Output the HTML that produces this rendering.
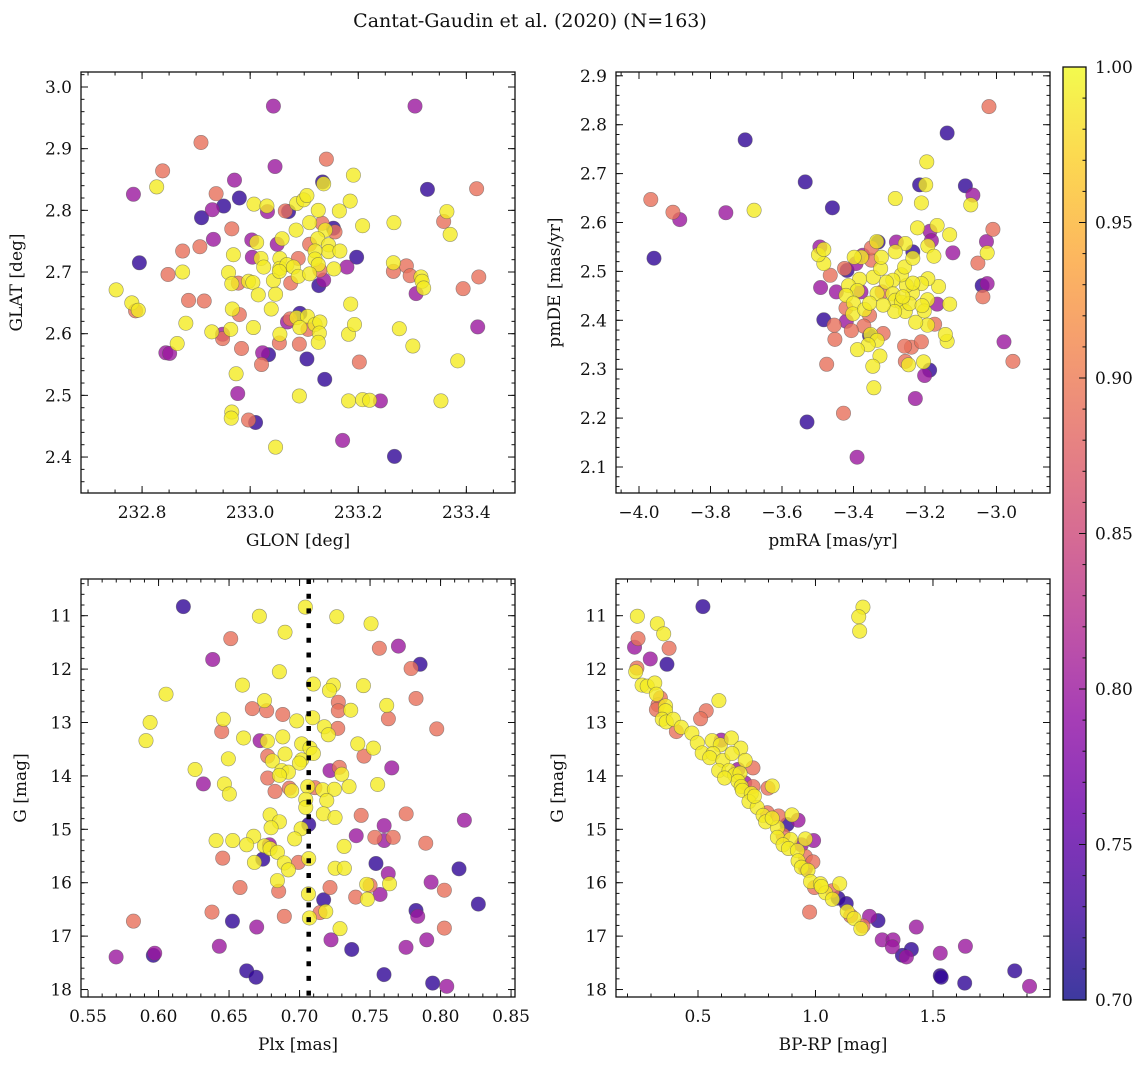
<!DOCTYPE html>
<html><head><meta charset="utf-8">
<style>
html,body{margin:0;padding:0;background:#fff;}
svg{display:block;font-family:"DejaVu Serif","Liberation Serif",serif;}
</style></head>
<body>
<svg id="fig" width="1148" height="1067" viewBox="0 0 1148 1067" xmlns="http://www.w3.org/2000/svg">
<rect x="0" y="0" width="1148" height="1067" fill="#fff"/>
<text x="530" y="27" font-size="19" text-anchor="middle" fill="#111">Cantat-Gaudin et al. (2020) (N=163)</text>
</svg>
<script>
// ---------- data ----------
const p1Glon=[233.043,233.305,232.909,233.141,232.838,233.046,233.191,232.827,232.971,233.134,233.136,232.784,233.328,233.419,232.937,232.980,232.951,232.910,232.930,233.007,233.031,233.032,233.065,233.071,233.086,233.099,233.105,233.126,233.165,233.185,233.364,233.358,233.370,233.266,233.208,232.966,232.932,233.085,233.110,233.133,233.139,233.154,233.157,233.059,233.003,233.012,233.050,233.125,233.110,233.145,233.145,233.166,233.120,232.907,232.875,232.969,233.004,233.020,233.055,233.089,233.120,233.197,232.795,233.025,233.055,233.068,233.080,233.126,233.129,233.155,233.179,233.265,233.265,233.289,233.296,233.316,233.318,233.321,233.307,233.423,233.394,232.875,232.848,232.960,232.966,232.978,232.997,233.005,233.043,233.054,233.089,233.110,233.075,233.136,233.127,232.752,232.781,232.788,232.793,232.886,232.915,233.015,233.047,233.186,232.967,232.980,233.039,232.881,232.929,232.949,232.949,232.964,233.006,233.069,233.074,233.086,233.092,233.106,233.092,233.107,233.120,233.129,233.128,233.126,233.055,233.054,233.091,233.182,233.193,233.276,233.301,233.421,232.865,232.844,232.851,232.984,233.023,233.034,233.021,233.105,233.202,233.384,232.974,232.977,233.138,233.091,233.182,233.208,233.221,233.241,233.353,232.966,232.965,232.997,233.010,233.047,233.171,233.267];
const p1Glat=[2.969,2.969,2.910,2.883,2.864,2.871,2.857,2.838,2.849,2.846,2.843,2.826,2.834,2.835,2.827,2.820,2.807,2.788,2.801,2.810,2.807,2.798,2.799,2.798,2.811,2.817,2.824,2.800,2.799,2.815,2.798,2.782,2.761,2.780,2.775,2.770,2.753,2.768,2.780,2.779,2.768,2.771,2.765,2.754,2.752,2.748,2.745,2.754,2.745,2.744,2.733,2.734,2.734,2.741,2.734,2.728,2.724,2.722,2.722,2.722,2.721,2.724,2.715,2.708,2.706,2.712,2.708,2.712,2.703,2.705,2.708,2.715,2.701,2.710,2.694,2.692,2.685,2.674,2.665,2.692,2.673,2.700,2.696,2.699,2.681,2.682,2.685,2.683,2.686,2.701,2.693,2.697,2.682,2.687,2.678,2.671,2.650,2.637,2.638,2.654,2.653,2.663,2.664,2.648,2.640,2.631,2.640,2.617,2.603,2.599,2.592,2.607,2.610,2.619,2.624,2.626,2.633,2.628,2.610,2.607,2.615,2.619,2.601,2.586,2.599,2.585,2.583,2.599,2.615,2.608,2.580,2.611,2.584,2.569,2.568,2.576,2.569,2.566,2.550,2.559,2.554,2.556,2.535,2.503,2.526,2.499,2.491,2.493,2.492,2.491,2.491,2.473,2.463,2.460,2.456,2.416,2.427,2.401];
const p1Prob=[0.80,0.80,0.89,0.89,0.89,0.80,0.99,0.99,0.80,0.72,0.99,0.80,0.72,0.89,0.89,0.72,0.72,0.72,0.80,0.99,0.99,0.80,0.89,0.72,0.99,0.99,0.99,0.99,0.99,0.99,0.99,0.89,0.99,0.99,0.99,0.89,0.80,0.99,0.99,0.89,0.99,0.72,0.89,0.99,0.80,0.99,0.80,0.99,0.89,0.99,0.99,0.99,0.99,0.89,0.89,0.99,0.80,0.99,0.99,0.89,0.99,0.72,0.72,0.99,0.99,0.99,0.99,0.99,0.89,0.99,0.80,0.99,0.89,0.89,0.89,0.99,0.99,0.99,0.80,0.89,0.89,0.99,0.89,0.99,0.99,0.89,0.99,0.99,0.99,0.99,0.99,0.99,0.89,0.80,0.72,0.99,0.99,0.89,0.99,0.89,0.89,0.99,0.99,0.99,0.99,0.89,0.99,0.99,0.99,0.80,0.89,0.99,0.99,0.80,0.89,0.99,0.72,0.99,0.99,0.89,0.99,0.99,0.99,0.99,0.99,0.89,0.89,0.99,0.99,0.99,0.99,0.80,0.99,0.80,0.80,0.89,0.80,0.72,0.89,0.72,0.89,0.99,0.99,0.80,0.72,0.99,0.99,0.99,0.99,0.80,0.99,0.99,0.99,0.89,0.72,0.99,0.80,0.72];

const p2PmRA=[-3.967,-3.905,-3.886,-3.958,-3.757,-3.703,-3.678,-3.535,-3.459,-3.530,-3.390,-3.428,-3.138,-3.021,-3.195,-3.215,-3.198,-3.087,-3.066,-3.072,-3.283,-3.210,-3.010,-3.221,-3.166,-3.186,-3.131,-3.182,-3.192,-3.175,-3.122,-3.028,-3.026,-3.052,-3.040,-3.026,-3.038,-2.979,-2.954,-3.187,-3.201,-3.227,-3.204,-3.246,-3.255,-3.238,-3.210,-3.257,-3.138,-3.143,-3.173,-3.193,-3.226,-3.166,-3.131,-3.193,-3.202,-3.162,-3.192,-3.210,-3.235,-3.252,-3.266,-3.257,-3.290,-3.308,-3.290,-3.283,-3.266,-3.255,-3.285,-3.320,-3.334,-3.317,-3.345,-3.324,-3.322,-3.350,-3.350,-3.331,-3.335,-3.280,-3.255,-3.283,-3.234,-3.234,-3.374,-3.378,-3.398,-3.393,-3.418,-3.425,-3.383,-3.414,-3.389,-3.379,-3.421,-3.400,-3.421,-3.402,-3.369,-3.355,-3.355,-3.371,-3.406,-3.420,-3.355,-3.352,-3.317,-3.334,-3.359,-3.389,-3.326,-3.346,-3.343,-3.483,-3.498,-3.494,-3.483,-3.465,-3.492,-3.448,-3.483,-3.454,-3.452,-3.475,-3.243,-3.262,-3.208,-3.234];
const p2PmDE=[2.647,2.621,2.606,2.527,2.620,2.769,2.625,2.683,2.630,2.192,2.120,2.210,2.783,2.837,2.724,2.677,2.677,2.675,2.656,2.636,2.649,2.640,2.586,2.589,2.594,2.582,2.575,2.563,2.552,2.531,2.538,2.561,2.538,2.517,2.471,2.475,2.448,2.356,2.316,2.298,2.287,2.240,2.315,2.309,2.316,2.345,2.356,2.347,2.357,2.371,2.392,2.390,2.396,2.433,2.433,2.442,2.419,2.469,2.485,2.475,2.456,2.471,2.493,2.509,2.482,2.478,2.454,2.441,2.437,2.418,2.418,2.458,2.455,2.431,2.488,2.506,2.529,2.523,2.548,2.560,2.561,2.560,2.557,2.540,2.540,2.527,2.533,2.529,2.529,2.516,2.502,2.506,2.484,2.471,2.461,2.458,2.451,2.435,2.425,2.413,2.422,2.435,2.410,2.388,2.379,2.398,2.369,2.371,2.373,2.359,2.350,2.340,2.327,2.306,2.262,2.516,2.534,2.550,2.545,2.492,2.467,2.458,2.401,2.390,2.361,2.310,2.434,2.448,2.430,2.476];
const p2Prob=[0.89,0.89,0.80,0.72,0.80,0.72,0.99,0.72,0.72,0.72,0.80,0.89,0.72,0.89,0.99,0.72,0.99,0.72,0.80,0.99,0.99,0.99,0.89,0.99,0.99,0.80,0.99,0.80,0.99,0.99,0.80,0.80,0.99,0.89,0.72,0.80,0.89,0.80,0.89,0.72,0.80,0.80,0.99,0.99,0.89,0.89,0.89,0.89,0.99,0.99,0.89,0.99,0.99,0.80,0.99,0.99,0.99,0.99,0.99,0.99,0.99,0.99,0.99,0.99,0.99,0.99,0.99,0.99,0.99,0.99,0.99,0.89,0.99,0.99,0.99,0.99,0.99,0.89,0.89,0.72,0.99,0.80,0.99,0.99,0.72,0.99,0.80,0.99,0.99,0.80,0.72,0.89,0.99,0.99,0.99,0.80,0.99,0.99,0.89,0.99,0.99,0.99,0.89,0.89,0.89,0.80,0.72,0.99,0.89,0.99,0.99,0.99,0.99,0.99,0.99,0.99,0.99,0.80,0.99,0.89,0.80,0.80,0.72,0.89,0.89,0.89,0.99,0.99,0.99,0.99];

const p3Plx=[0.6176,0.6715,0.7041,0.7264,0.7507,0.6897,0.6512,0.7566,0.7701,0.6384,0.7855,0.7791,0.6857,0.7098,0.7240,0.7212,0.7453,0.6595,0.6053,0.7826,0.6751,0.7275,0.7275,0.7363,0.7618,0.7630,0.6665,0.6767,0.6881,0.6460,0.6980,0.7093,0.5940,0.7176,0.7271,0.7204,0.7973,0.6448,0.5911,0.6603,0.6720,0.6772,0.6881,0.7015,0.7074,0.7098,0.7413,0.7524,0.7457,0.6897,0.6774,0.6807,0.7015,0.6999,0.6495,0.6259,0.7654,0.7216,0.7282,0.7299,0.6874,0.6921,0.6857,0.6774,0.6318,0.6467,0.6502,0.6826,0.6928,0.6944,0.7058,0.7109,0.7164,0.7247,0.7351,0.7554,0.7044,0.7193,0.7044,0.7169,0.7252,0.7437,0.7756,0.8169,0.6791,0.6857,0.6798,0.7065,0.7011,0.7600,0.7402,0.7534,0.7600,0.7664,0.7895,0.6675,0.6965,0.6408,0.6526,0.6625,0.6786,0.6751,0.6791,0.6843,0.7316,0.6455,0.6739,0.6680,0.6892,0.6992,0.7065,0.6921,0.7252,0.7318,0.7542,0.7629,0.8131,0.6843,0.6578,0.6852,0.7216,0.7476,0.7500,0.7638,0.7571,0.7481,0.7398,0.7933,0.8027,0.7063,0.7171,0.8268,0.6379,0.7145,0.7186,0.7826,0.7838,0.6892,0.7070,0.5822,0.6524,0.6696,0.7287,0.8027,0.6431,0.7223,0.7370,0.7755,0.7902,0.5699,0.5963,0.5973,0.6625,0.6691,0.7599,0.7944,0.8044];
const p3G=[10.83,11.01,10.84,11.02,11.15,11.31,11.43,11.61,11.57,11.82,11.91,11.99,12.05,12.28,12.30,12.40,12.31,12.30,12.47,12.55,12.59,12.62,12.78,12.77,12.68,12.93,12.74,12.78,12.85,12.94,12.97,12.91,13.00,13.08,13.11,13.23,13.12,13.17,13.34,13.29,13.34,13.35,13.27,13.40,13.48,13.58,13.40,13.48,13.63,13.59,13.63,13.72,13.70,13.76,13.68,13.88,13.85,13.90,13.84,13.97,13.90,13.93,13.99,14.04,14.15,14.15,14.34,14.29,14.23,14.28,14.20,14.22,14.26,14.25,14.20,14.16,14.44,14.46,14.59,14.71,14.78,14.74,14.71,14.83,14.73,14.86,14.97,14.91,14.99,14.93,15.12,15.15,15.21,15.15,15.26,15.13,15.18,15.21,15.21,15.29,15.29,15.31,15.36,15.43,15.32,15.54,15.56,15.62,15.63,15.62,15.55,15.76,15.73,15.73,15.64,15.83,15.74,15.96,16.09,16.16,16.09,16.03,16.05,16.02,16.22,16.31,16.27,15.99,16.14,16.21,16.32,16.40,16.55,16.56,16.54,16.52,16.63,16.63,16.66,16.72,16.72,16.83,16.86,16.85,17.19,17.07,17.25,17.21,17.07,17.39,17.36,17.32,17.65,17.77,17.72,17.88,17.94];
const p3Prob=[0.72,0.99,0.99,0.99,0.99,0.99,0.89,0.89,0.80,0.80,0.72,0.89,0.99,0.99,0.99,0.99,0.99,0.99,0.99,0.89,0.99,0.89,0.89,0.99,0.99,0.89,0.89,0.89,0.89,0.99,0.99,0.99,0.99,0.99,0.89,0.99,0.89,0.89,0.99,0.99,0.80,0.99,0.99,0.99,0.99,0.99,0.99,0.99,0.89,0.99,0.89,0.99,0.99,0.99,0.99,0.99,0.80,0.80,0.89,0.99,0.99,0.99,0.99,0.89,0.80,0.99,0.99,0.89,0.89,0.99,0.99,0.89,0.99,0.99,0.99,0.99,0.99,0.99,0.99,0.99,0.99,0.89,0.89,0.80,0.99,0.99,0.99,0.72,0.99,0.80,0.80,0.89,0.80,0.89,0.89,0.99,0.99,0.99,0.99,0.99,0.80,0.99,0.99,0.99,0.99,0.89,0.72,0.99,0.99,0.89,0.99,0.99,0.99,0.99,0.72,0.80,0.72,0.99,0.89,0.89,0.89,0.99,0.89,0.99,0.80,0.99,0.89,0.80,0.89,0.99,0.72,0.72,0.89,0.89,0.99,0.72,0.80,0.89,0.99,0.89,0.72,0.80,0.99,0.89,0.80,0.80,0.72,0.80,0.80,0.80,0.72,0.80,0.72,0.72,0.72,0.72,0.80];

const p4Color=[0.521,0.242,1.202,1.184,1.188,0.327,0.354,0.245,0.230,0.377,0.297,0.368,0.240,0.235,0.262,0.284,0.316,0.323,0.340,0.330,0.323,0.362,0.362,0.348,0.365,0.395,0.589,0.535,0.511,0.408,0.429,0.474,0.497,0.518,0.560,0.599,0.595,0.564,0.550,0.606,0.588,0.642,0.682,0.645,0.701,0.734,0.670,0.632,0.656,0.679,0.670,0.699,0.684,0.689,0.734,0.798,0.816,0.727,0.717,0.752,0.795,0.777,0.788,0.843,0.900,0.926,0.879,0.838,0.862,0.838,0.894,0.957,0.992,0.940,0.862,0.885,0.923,0.957,0.989,0.926,0.940,0.968,0.958,0.979,0.996,1.021,1.043,1.072,1.072,1.103,1.096,1.131,1.135,1.150,1.164,1.202,1.193,0.975,1.230,1.266,1.284,1.330,1.327,1.370,1.387,1.408,1.429,1.531,1.638,1.531,1.535,1.635,1.848,1.911,0.613,0.740,0.816,1.025];
const p4G=[10.83,11.01,10.84,11.02,11.29,11.15,11.34,11.43,11.59,11.61,11.81,11.91,11.98,12.05,12.30,12.32,12.26,12.47,12.54,12.67,12.76,12.69,12.78,12.94,12.99,12.94,12.59,12.78,12.93,13.17,13.09,13.20,13.38,13.57,13.34,13.33,13.42,13.58,13.66,13.71,13.90,13.29,13.48,13.58,13.71,13.85,13.88,13.90,13.98,13.95,14.10,14.13,14.20,14.27,14.20,14.23,14.19,14.33,14.48,14.59,14.69,14.74,14.86,14.75,14.73,14.83,14.91,14.97,15.11,15.15,15.19,15.18,15.21,15.29,15.29,15.36,15.40,15.51,15.61,15.59,15.71,15.77,15.73,15.98,16.09,16.02,16.19,16.15,16.31,16.02,16.29,16.39,16.54,16.62,16.67,16.81,16.86,16.55,16.63,16.71,17.07,17.07,17.20,17.36,17.39,17.25,16.83,17.32,17.19,17.74,17.77,17.88,17.65,17.94,14.04,14.38,14.79,16.07];
const p4Prob=[0.72,0.99,0.99,0.99,0.99,0.99,0.99,0.89,0.80,0.89,0.80,0.72,0.89,0.99,0.99,0.99,0.99,0.99,0.89,0.89,0.89,0.99,0.99,0.99,0.99,0.99,0.99,0.89,0.89,0.89,0.99,0.99,0.99,0.99,0.99,0.80,0.99,0.99,0.99,0.99,0.99,0.99,0.99,0.99,0.99,0.89,0.80,0.99,0.99,0.99,0.99,0.80,0.99,0.99,0.89,0.89,0.99,0.99,0.99,0.99,0.89,0.99,0.99,0.89,0.99,0.80,0.72,0.99,0.89,0.99,0.99,0.99,0.80,0.80,0.99,0.99,0.99,0.89,0.89,0.99,0.99,0.99,0.80,0.99,0.89,0.99,0.99,0.89,0.99,0.99,0.72,0.72,0.99,0.89,0.99,0.89,0.99,0.89,0.80,0.72,0.80,0.80,0.80,0.72,0.80,0.72,0.80,0.80,0.80,0.72,0.72,0.72,0.72,0.80,0.99,0.99,0.99,0.99];

const p1XTicks=[232.8,233.0,233.2,233.4];
const p1YTicks=[2.4,2.5,2.6,2.7,2.8,2.9,3.0];
const p2XTicks=[-4.0,-3.8,-3.6,-3.4,-3.2,-3.0];
const p2YTicks=[2.1,2.2,2.3,2.4,2.5,2.6,2.7,2.8,2.9];
const p3XTicks=[0.55,0.60,0.65,0.70,0.75,0.80,0.85];
const gTicks=[11,12,13,14,15,16,17,18];
const p4XTicks=[0.5,1.0,1.5];
const cbarTicks=[0.70,0.75,0.80,0.85,0.90,0.95,1.00];
const plxRef=[0.7065];

// ---------- drawing ----------
const NS='http://www.w3.org/2000/svg';
const svg=document.getElementById('fig');
function mk(tag,attrs,parent){const e=document.createElementNS(NS,tag);for(const k in attrs)e.setAttribute(k,attrs[k]);(parent||svg).appendChild(e);return e;}
const stops=['#0d0887','#41049d','#6a00a8','#8f0da4','#b12a90','#cc4778','#e16462','#f2844b','#fca636','#fcce25','#f0f921'];
function hex(h){return [1,3,5].map(i=>parseInt(h.substr(i,2),16));}
function cmap(p){let t=(p-0.7)/0.3;t=Math.max(0,Math.min(1,t));const f=t*10,i=Math.min(9,Math.floor(f)),r=f-i;const a=hex(stops[i]),b=hex(stops[i+1]);return 'rgb('+a.map((v,k)=>Math.round(v+(b[k]-v)*r)).join(',')+')';}
function fmtMinus(s){return s.replace('-','\u2212');}

function makeAxes(o){
  const g=mk('g',{});
  
  
  const sx=v=>o.x0+(v-o.xmin)/(o.xmax-o.xmin)*(o.x1-o.x0);
  const sy=v=>o.y0+(v-o.ytop)/(o.ybot-o.ytop)*(o.y1-o.y0);
  // minor ticks
  const tk=mk('g',{stroke:'#111','stroke-width':1},g);
  
  
  const lo=Math.min(o.xmin,o.xmax),hi=Math.max(o.xmin,o.xmax);
  for(let k=Math.ceil(lo/o.xminor-1e-6);k*o.xminor<=hi+1e-9;k++){const x=sx(k*o.xminor);mk('line',{x1:x,x2:x,y1:o.y1,y2:o.y1-3.5},tk);mk('line',{x1:x,x2:x,y1:o.y0,y2:o.y0+3.5},tk);}
  const ylo=Math.min(o.ytop,o.ybot),yhi=Math.max(o.ytop,o.ybot);
  for(let k=Math.ceil(ylo/o.yminor-1e-6);k*o.yminor<=yhi+1e-9;k++){const y=sy(k*o.yminor);mk('line',{x1:o.x0,x2:o.x0+3.5,y1:y,y2:y},tk);mk('line',{x1:o.x1,x2:o.x1-3.5,y1:y,y2:y},tk);}
  o.xticks.forEach(v=>{const x=sx(v);mk('line',{x1:x,x2:x,y1:o.y1,y2:o.y1-7},tk);mk('line',{x1:x,x2:x,y1:o.y0,y2:o.y0+7},tk);
    const t=mk('text',{x:x,y:o.y1+25,'font-size':17,'text-anchor':'middle',fill:'#111'},g);t.textContent=fmtMinus(v.toFixed(o.xdec));
    });
  o.yticks.forEach(v=>{const y=sy(v);mk('line',{x1:o.x0,x2:o.x0+7,y1:y,y2:y},tk);mk('line',{x1:o.x1,x2:o.x1-7,y1:y,y2:y},tk);
    const t=mk('text',{x:o.x0-9,y:y+6,'font-size':17,'text-anchor':'end',fill:'#111'},g);t.textContent=v.toFixed(o.ydec);
    });
  const xl=mk('text',{x:(o.x0+o.x1)/2,y:o.y1+53,'font-size':17,'text-anchor':'middle',fill:'#111'},g);xl.textContent=o.xlabel;
  
  const yl=mk('text',{x:0,y:0,'font-size':17,'text-anchor':'middle',fill:'#111',transform:'translate('+o.ylx+','+((o.y0+o.y1)/2)+') rotate(-90)'},g);yl.textContent=o.ylabel;
  
  // points sorted by prob
  const pts=mk('g',{},g);
  
  
  const idx=o.xs.map((_,i)=>i).sort((a,b)=>o.ps[a]-o.ps[b]);
  idx.forEach(i=>{const c=mk('circle',{cx:sx(o.xs[i]),cy:sy(o.ys[i]),r:7.2,fill:cmap(o.ps[i]),'fill-opacity':0.8,stroke:'#555','stroke-opacity':0.6,'stroke-width':0.6},pts);
    
    });
  if(o.after)o.after(g,sx,sy);
  const fr=mk('rect',{x:o.x0,y:o.y0,width:o.x1-o.x0,height:o.y1-o.y0,fill:'none',stroke:'#111','stroke-width':1.3},g);
  
}

makeAxes({name:'glon-glat-panel',x0:81,x1:515,y0:72,y1:493,xmin:232.687,xmax:233.490,ytop:3.0243,ybot:2.3417,
  xticks:p1XTicks,yticks:p1YTicks,xminor:0.05,yminor:0.02,xdec:1,ydec:1,xlabel:'GLON [deg]',ylabel:'GLAT [deg]',ylx:22,
  xs:p1Glon,ys:p1Glat,ps:p1Prob});
makeAxes({name:'proper-motion-panel',x0:616,x1:1050,y0:72,y1:493,xmin:-4.0643,xmax:-2.8503,ytop:2.9078,ybot:2.0468,
  xticks:p2XTicks,yticks:p2YTicks,xminor:0.05,yminor:0.02,xdec:1,ydec:1,xlabel:'pmRA [mas/yr]',ylabel:'pmDE [mas/yr]',ylx:560,
  xs:p2PmRA,ys:p2PmDE,ps:p2Prob});
makeAxes({name:'parallax-mag-panel',x0:81,x1:515,y0:579,y1:997,xmin:0.5450,xmax:0.8528,ytop:10.313,ybot:18.14,
  xticks:p3XTicks,yticks:gTicks,xminor:0.01,yminor:0.2,xdec:2,ydec:0,xlabel:'Plx [mas]',ylabel:'G [mag]',ylx:26,
  xs:p3Plx,ys:p3G,ps:p3Prob,
  after:(g,sx,sy)=>{plxRef.forEach(v=>{const l=mk('line',{x1:sx(v),x2:sx(v),y1:579,y2:997,stroke:'#000','stroke-width':4.5,'stroke-dasharray':'5,9.7'},g);
    });}});
makeAxes({name:'cmd-panel',x0:616,x1:1050,y0:579,y1:997,xmin:0.1511,xmax:1.998,ytop:10.313,ybot:18.14,
  xticks:p4XTicks,yticks:gTicks,xminor:0.1,yminor:0.2,xdec:1,ydec:0,xlabel:'BP-RP [mag]',ylabel:'G [mag]',ylx:563,
  xs:p4Color,ys:p4G,ps:p4Prob});

// colorbar
(function(){
  const cx0=1063,cx1=1086,cy0=67,cy1=1000;
  const g=mk('g',{});
  
  
  const defs=mk('defs',{},g);
  const lg=mk('linearGradient',{id:'cbg',x1:0,y1:1,x2:0,y2:0},defs);
  stops.forEach((s,i)=>mk('stop',{offset:(i*10)+'%','stop-color':s,'stop-opacity':0.8},lg));
  mk('rect',{x:cx0,y:cy0,width:cx1-cx0,height:cy1-cy0,fill:'url(#cbg)'},g);
  const sy=v=>cy1-(v-0.7)/0.3*(cy1-cy0);
  for(let k=70;k<=100;k++){const y=sy(k/100);mk('line',{x1:cx1,x2:cx1-3.5,y1:y,y2:y,stroke:'#111','stroke-width':1},g);}
  cbarTicks.forEach(v=>{const y=sy(v);mk('line',{x1:cx1,x2:cx1-7,y1:y,y2:y,stroke:'#111','stroke-width':1},g);
    const t=mk('text',{x:cx1+9,y:y+6,'font-size':17,fill:'#111'},g);t.textContent=v.toFixed(2);
    });
  mk('rect',{x:cx0,y:cy0,width:cx1-cx0,height:cy1-cy0,fill:'none',stroke:'#111','stroke-width':1.3},g);
})();
</script>
</body></html>
